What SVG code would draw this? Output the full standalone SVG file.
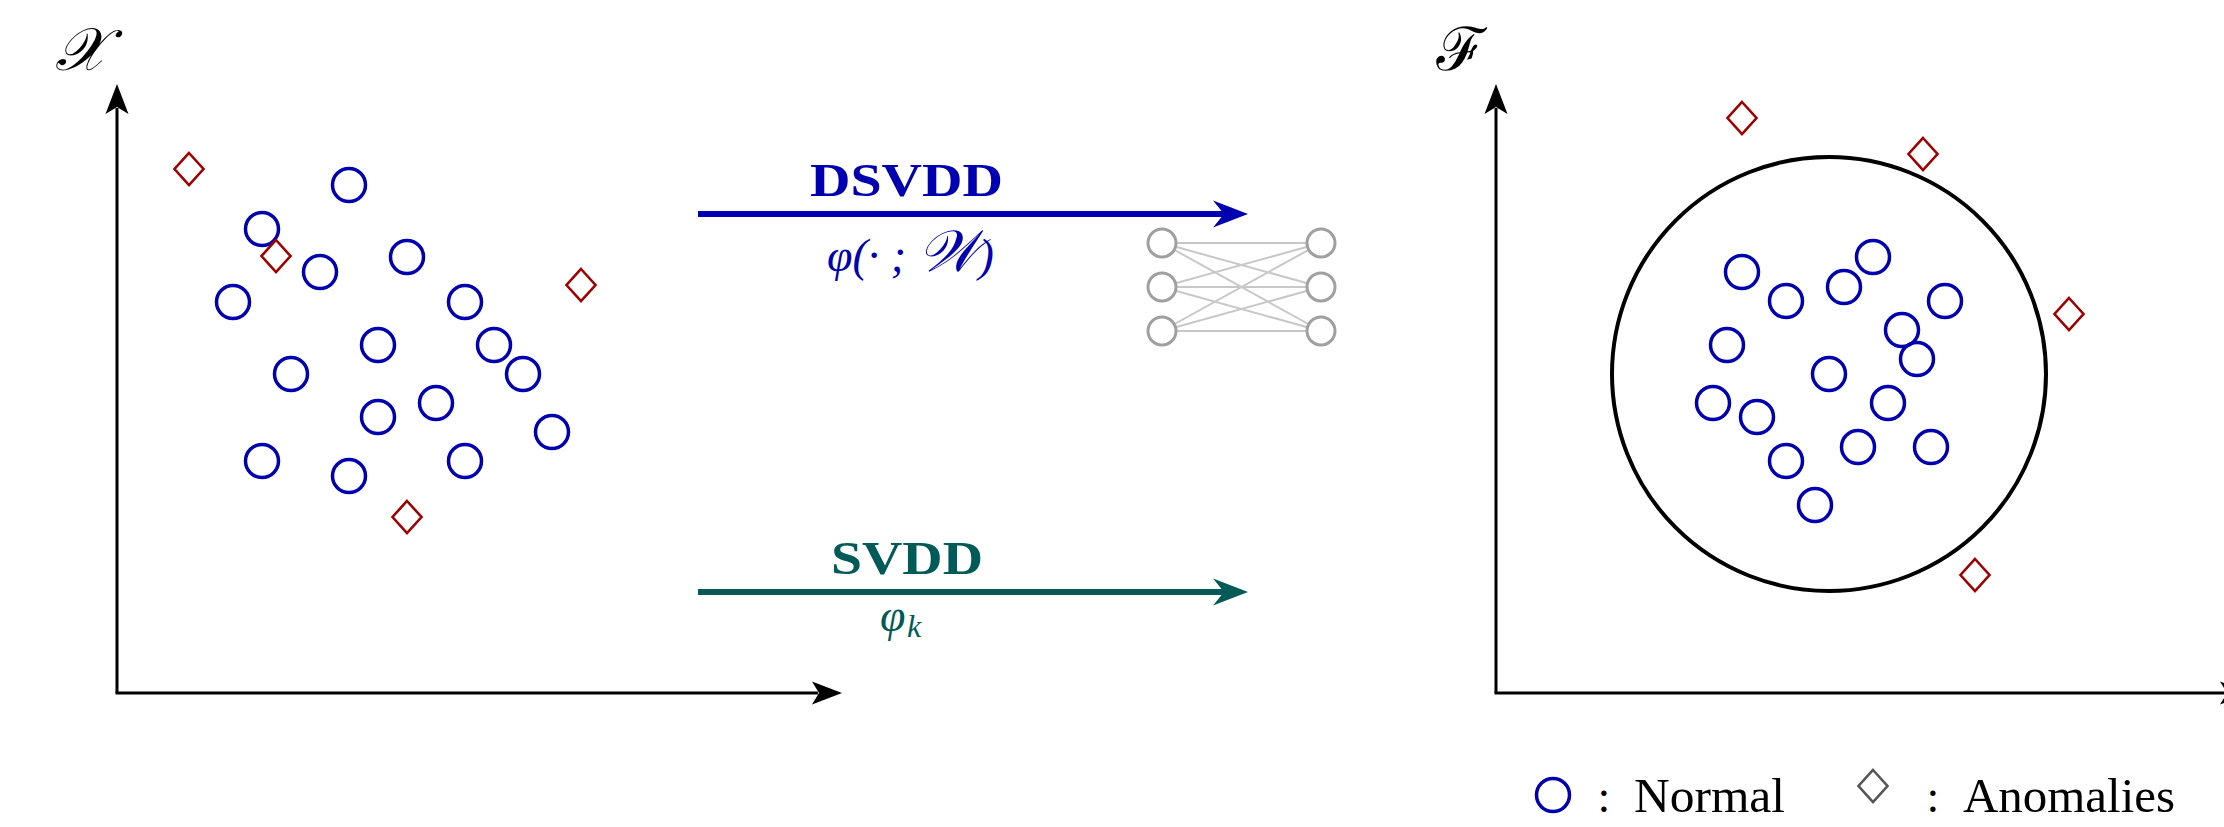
<svg xmlns="http://www.w3.org/2000/svg" xmlns:xlink="http://www.w3.org/1999/xlink" width="2224" height="827" viewBox="0 0 2224 827">
<style>
.axis{stroke:#000;stroke-width:3;fill:none}
.pt{fill:none;stroke:#0000b0;stroke-width:3.5}
.an{fill:none;stroke:#a00000;stroke-width:2.6}
.nn{fill:#fff;stroke:#a0a0a0;stroke-width:3}
.nl{stroke:#c8c8c8;stroke-width:2}
.lbl{font-family:"Liberation Serif","DejaVu Serif",serif}
.math{font-family:"Liberation Serif","DejaVu Serif","Noto Sans",serif;font-style:italic}
</style>
<defs>
<path id="ahead" d="M0,0 L-30,-11.5 L-23,0 L-30,11.5 Z"/>
<path id="bhead" d="M0,0 L-35,-13.5 L-24,0 L-35,13.5 Z"/>
<circle id="c" r="16.5"/>
<path id="d" d="M0,-16 L14.5,0 L0,16 L-14.5,0 Z"/>
</defs>
<rect width="2224" height="827" fill="#fff"/>

<g id="left-axes">
<line class="axis" x1="117" y1="693" x2="117" y2="108"/>
<line class="axis" x1="115.5" y1="693" x2="818" y2="693"/>
<use href="#ahead" transform="translate(117,84) rotate(-90)"/>
<use href="#ahead" transform="translate(842,693)"/>
<text class="math" x="55" y="70" font-size="60">𝒳</text>
</g>

<g id="left-normal" class="pt">
<use href="#c" x="349" y="185"/>
<use href="#c" x="262" y="229"/>
<use href="#c" x="407" y="257"/>
<use href="#c" x="320" y="272"/>
<use href="#c" x="233" y="302"/>
<use href="#c" x="465" y="302"/>
<use href="#c" x="378" y="345"/>
<use href="#c" x="494" y="345"/>
<use href="#c" x="291" y="374"/>
<use href="#c" x="523" y="374"/>
<use href="#c" x="436" y="403"/>
<use href="#c" x="378" y="417"/>
<use href="#c" x="552" y="432"/>
<use href="#c" x="262" y="461"/>
<use href="#c" x="349" y="476"/>
<use href="#c" x="465" y="461"/>
</g>
<g id="left-anomalies" class="an">
<use href="#d" x="189" y="169"/>
<use href="#d" x="276" y="256"/>
<use href="#d" x="581" y="285"/>
<use href="#d" x="407" y="517"/>
</g>

<g id="connectors">
<g id="dsvdd-arrow">
<line x1="698" y1="214" x2="1226" y2="214" stroke="#0000b0" stroke-width="6"/>
<use href="#bhead" transform="translate(1248,214)" fill="#0000b0"/>
</g>
<g id="svdd-arrow">
<line x1="698" y1="592" x2="1226" y2="592" stroke="#005a58" stroke-width="6"/>
<use href="#bhead" transform="translate(1248,592)" fill="#005a58"/>
</g>
</g>

<g id="dsvdd-label">
<text class="lbl" x="810" y="196" font-size="47" font-weight="bold" fill="#0000b0" textLength="193" lengthAdjust="spacingAndGlyphs">DSVDD</text>
<text class="math" x="827" y="271" font-size="46" fill="#0000b0"><tspan>φ(· ; </tspan><tspan font-size="58">𝒲</tspan><tspan>)</tspan></text>
</g>
<g id="svdd-label">
<text class="lbl" x="831" y="574" font-size="47" font-weight="bold" fill="#005a58" textLength="152" lengthAdjust="spacingAndGlyphs">SVDD</text>
<text class="math" x="880" y="631" font-size="46" fill="#005a58">φ</text>
<text class="math" x="907" y="637" font-size="32" fill="#005a58">k</text>
</g>

<g id="network">
<g class="nl">
<line x1="1162" y1="243" x2="1321" y2="243"/>
<line x1="1162" y1="243" x2="1321" y2="287"/>
<line x1="1162" y1="243" x2="1321" y2="331"/>
<line x1="1162" y1="287" x2="1321" y2="243"/>
<line x1="1162" y1="287" x2="1321" y2="287"/>
<line x1="1162" y1="287" x2="1321" y2="331"/>
<line x1="1162" y1="331" x2="1321" y2="243"/>
<line x1="1162" y1="331" x2="1321" y2="287"/>
<line x1="1162" y1="331" x2="1321" y2="331"/>
</g>
<circle class="nn" cx="1162" cy="243" r="14"/>
<circle class="nn" cx="1162" cy="287" r="14"/>
<circle class="nn" cx="1162" cy="331" r="14"/>
<circle class="nn" cx="1321" cy="243" r="14"/>
<circle class="nn" cx="1321" cy="287" r="14"/>
<circle class="nn" cx="1321" cy="331" r="14"/>
</g>

<g id="right-axes">
<line class="axis" x1="1496" y1="693" x2="1496" y2="108"/>
<line class="axis" x1="1494.5" y1="693" x2="2226" y2="693"/>
<use href="#ahead" transform="translate(1496,84) rotate(-90)"/>
<use href="#ahead" transform="translate(2250,693)"/>
<text class="math" x="1435" y="70" font-size="60">ℱ</text>
</g>

<g id="sphere">
<circle cx="1829" cy="374" r="217" fill="none" stroke="#000" stroke-width="4"/>
</g>

<g id="right-normal" class="pt">
<use href="#c" x="1742" y="272"/>
<use href="#c" x="1786" y="301"/>
<use href="#c" x="1844" y="287"/>
<use href="#c" x="1873" y="257"/>
<use href="#c" x="1945" y="301"/>
<use href="#c" x="1902" y="330"/>
<use href="#c" x="1917" y="359"/>
<use href="#c" x="1727" y="345"/>
<use href="#c" x="1829" y="374"/>
<use href="#c" x="1713" y="403"/>
<use href="#c" x="1757" y="417"/>
<use href="#c" x="1888" y="403"/>
<use href="#c" x="1786" y="461"/>
<use href="#c" x="1858" y="447"/>
<use href="#c" x="1931" y="447"/>
<use href="#c" x="1815" y="505"/>
</g>
<g id="right-anomalies" class="an">
<use href="#d" x="1742" y="118"/>
<use href="#d" x="1923" y="154"/>
<use href="#d" x="2069" y="314"/>
<use href="#d" x="1975" y="575"/>
</g>

<g id="legend">
<use href="#c" x="1553" y="795" class="pt"/>
<text class="lbl" x="1604" y="812" font-size="46" text-anchor="middle">:</text>
<text class="lbl" x="1634" y="812" font-size="48" textLength="151" lengthAdjust="spacingAndGlyphs">Normal</text>
<use href="#d" x="1873" y="786" fill="none" stroke="#555" stroke-width="2.6"/>
<text class="lbl" x="1933" y="812" font-size="46" text-anchor="middle">:</text>
<text class="lbl" x="1963" y="812" font-size="48" textLength="212" lengthAdjust="spacingAndGlyphs">Anomalies</text>
</g>
</svg>
